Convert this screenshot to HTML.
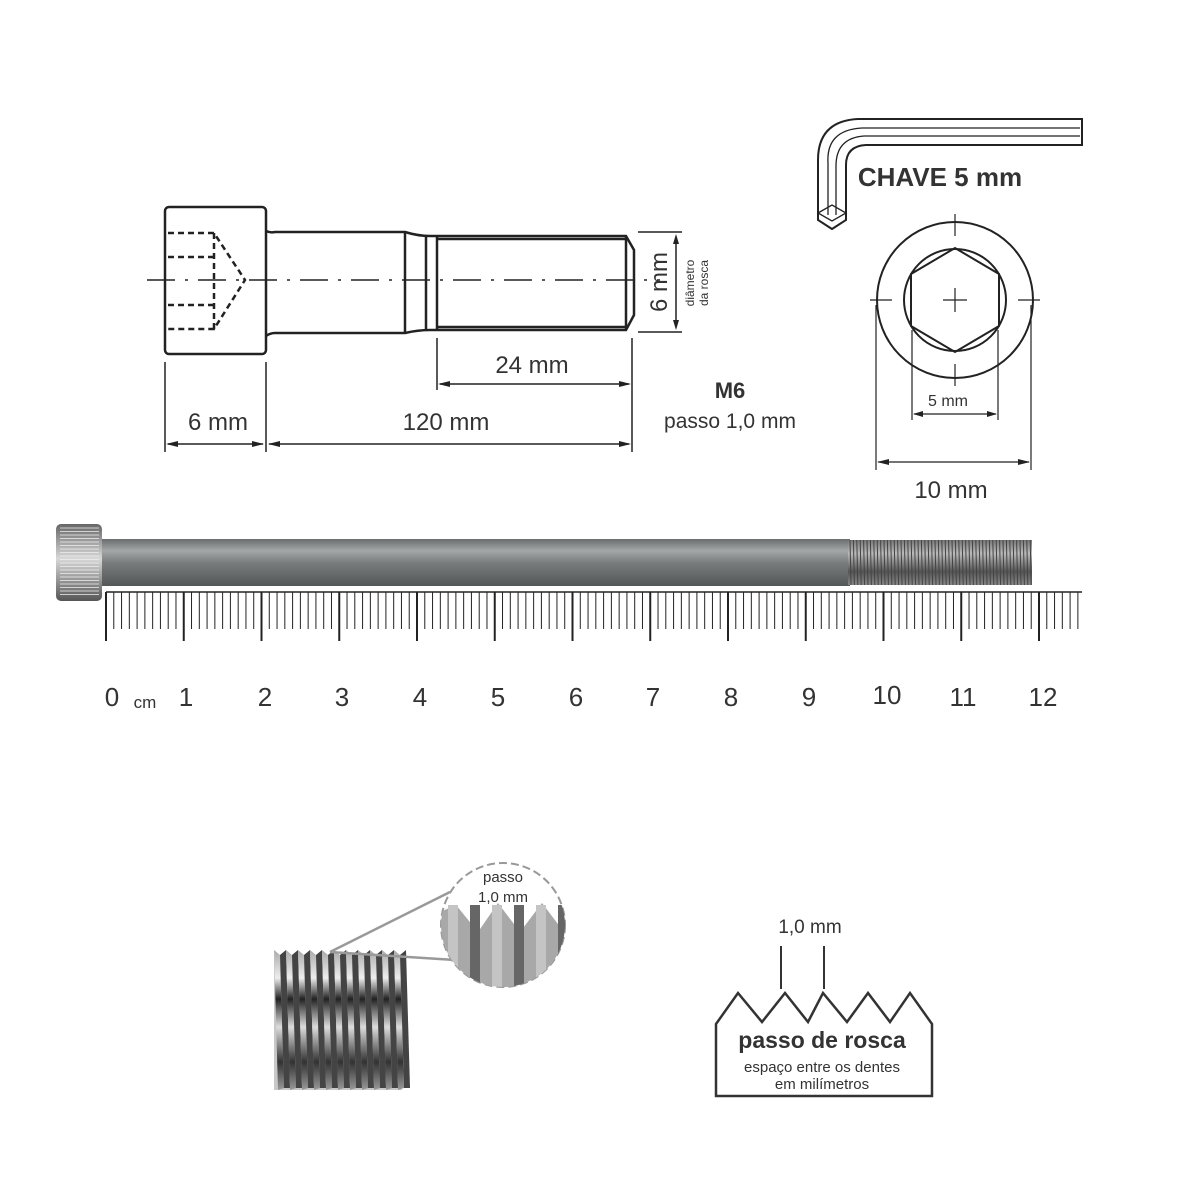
<!DOCTYPE html>
<html><head><meta charset="utf-8"><style>
html,body{margin:0;padding:0;background:#fff}
svg{display:block}
text{font-family:"Liberation Sans",sans-serif;fill:#333}
</style></head><body>
<svg id="s" width="1200" height="1200" viewBox="0 0 1200 1200" xmlns="http://www.w3.org/2000/svg">
<defs>
<linearGradient id="rod" x1="0" y1="0" x2="0" y2="1">
<stop offset="0" stop-color="#6a6d6d"/><stop offset="0.25" stop-color="#a4a7a7"/><stop offset="0.5" stop-color="#7a7d7d"/><stop offset="1" stop-color="#535757"/></linearGradient>
<linearGradient id="head" x1="0" y1="0" x2="0" y2="1">
<stop offset="0" stop-color="#666"/><stop offset="0.45" stop-color="#d8d8d8"/><stop offset="1" stop-color="#555"/></linearGradient>
<linearGradient id="thr" x1="0" y1="0" x2="0" y2="1">
<stop offset="0" stop-color="#777"/><stop offset="0.3" stop-color="#bbb"/><stop offset="0.7" stop-color="#555"/><stop offset="1" stop-color="#888"/></linearGradient>
<linearGradient id="tpg" x1="0" y1="0" x2="0" y2="1">
<stop offset="0" stop-color="#aaa"/><stop offset="0.2" stop-color="#eee"/><stop offset="0.35" stop-color="#222"/><stop offset="0.55" stop-color="#ddd"/><stop offset="0.8" stop-color="#333"/><stop offset="1" stop-color="#999"/></linearGradient>
<clipPath id="cc"><circle cx="503" cy="925" r="62"/></clipPath>
</defs>
<g fill="none" stroke="#222" stroke-width="2.5">
<rect x="165" y="207" width="101" height="147" rx="4"/>
<path d="M266 231 Q270 233 275 232 L382 232 L405 232 Q418 236 430 236 L626 236 L634 250 L634 315 L626 330 L430 330 Q418 330 405 333 L275 333 Q270 333 266 336"/>
<path d="M405 232 L405 333 M426 236 L426 330 M437 236 L437 330 M437 239 L626 239 M437 327 L626 327 M626 236 L626 330"/>
<path stroke-dasharray="6,4" d="M168 233 L214 233 L245 280 L214 329 L168 329 M168 257 L214 257 M168 305 L214 305 M214 233 L214 329"/>
<path stroke-width="1.5" d="M147 280 L660 280" stroke-dasharray="28,10,3,10"/>
<path stroke-width="1.5" d="M165 362 L165 452 M266 362 L266 452 M632 338 L632 452 M437 338 L437 390 M638 232 L682 232 M638 332 L682 332 M676 238 L676 326"/>
<path stroke-width="1.5" d="M168 444 L263 444 M269 444 L629 444 M440 384 L629 384"/>
</g>
<g fill="#222">
<path d="M166 444 l12 -3 l0 6z M264 444 l-12 -3 l0 6z M268 444 l12 -3 l0 6z M631 444 l-12 -3 l0 6z M438 384 l12 -3 l0 6z M631 384 l-12 -3 l0 6z M676 234 l-3 10 l6 0z M676 330 l-3 -10 l6 0z"/>
</g>
<text x="218" y="430" font-size="24" text-anchor="middle">6 mm</text>
<text x="446" y="430" font-size="24" text-anchor="middle">120 mm</text>
<text x="532" y="373" font-size="24" text-anchor="middle">24 mm</text>
<text x="730" y="398" font-size="22" font-weight="bold" text-anchor="middle">M6</text>
<text x="730" y="428" font-size="21" text-anchor="middle">passo 1,0 mm</text>
<text transform="translate(667,282) rotate(-90)" font-size="24" text-anchor="middle">6 mm</text>
<text transform="translate(694,283) rotate(-90)" font-size="12" text-anchor="middle">diâmetro</text>
<text transform="translate(708,283) rotate(-90)" font-size="12" text-anchor="middle">da rosca</text>
<g fill="none" stroke="#222" stroke-width="2">
<path d="M1082 119 L858 119 Q818 121 818 160 L818 220 L832 229 L846 220 L846 165 Q846 146 866 145 L1082 145 Z"/>
<path stroke-width="1.3" d="M1080 128 L862 128 Q826 130 828 163 L828 215 M1080 136 L864 136 Q836 138 836 166 L836 215 M818 213 L832 205 L846 213 L832 221 Z"/>
</g>
<text x="940" y="186" font-size="26" font-weight="bold" text-anchor="middle">CHAVE 5 mm</text>
<g fill="none" stroke="#222" stroke-width="2">
<circle cx="955" cy="300" r="78"/>
<circle cx="955" cy="300" r="51"/>
<path d="M955 248 L999 274 L999 326 L955 352 L911 326 L911 274 Z"/>
<path stroke-width="1.2" d="M955 214 L955 236 M955 288 L955 312 M955 364 L955 386 M870 300 L892 300 M943 300 L967 300 M1018 300 L1040 300" />
<path stroke-width="1.2" d="M912 330 L912 420 M998 330 L998 420 M876 305 L876 470 M1031 305 L1031 470 M914 414 L996 414 M878 462 L1029 462"/>
</g>
<g fill="#222"><path d="M913 414 l10 -3 l0 6z M997 414 l-10 -3 l0 6z M877 462 l12 -3 l0 6z M1030 462 l-12 -3 l0 6z"/></g>
<text x="948" y="406" font-size="16" text-anchor="middle">5 mm</text>
<text x="951" y="498" font-size="24" text-anchor="middle">10 mm</text>
<rect x="102" y="539" width="748" height="47" fill="url(#rod)"/>
<rect x="848" y="540" width="184" height="45" fill="url(#thr)"/>
<g id="thl" stroke="#444" stroke-width="1"></g>
<rect x="56" y="524" width="46" height="77" rx="5" fill="url(#head)"/>
<g id="hdl" stroke="#eee" stroke-width="0.8"></g>
<g id="rul" stroke="#222"></g>
<g font-size="26" text-anchor="middle">
<text x="112" y="706">0</text><text x="145" y="708" font-size="17">cm</text>
<text x="186" y="706">1</text><text x="265" y="706">2</text><text x="342" y="706">3</text><text x="420" y="706">4</text>
<text x="498" y="706">5</text><text x="576" y="706">6</text><text x="653" y="706">7</text><text x="731" y="706">8</text>
<text x="809" y="706">9</text><text x="887" y="704">10</text><text x="963" y="706">11</text><text x="1043" y="706">12</text>
</g>
<g id="tp"></g>
<path d="M330 952 L450 892 M330 952 L455 960" stroke="#999" stroke-width="2.5" fill="none"/>
<circle cx="503" cy="925" r="62" fill="#fff" stroke="#999" stroke-width="2" stroke-dasharray="8,4"/>
<g clip-path="url(#cc)">
<path d="M440 912 L456 905 L478 932 L498 903 L520 932 L542 903 L564 932 L570 1000 L440 1000 Z" fill="#a8a8a8"/>
<g id="cz"></g>
</g>
<text x="503" y="882" font-size="15" text-anchor="middle">passo</text>
<text x="503" y="902" font-size="15" text-anchor="middle">1,0 mm</text>
<path d="M716 1096 L716 1024 L738 993 L762 1022 L785 993 L808 1022 L823 993 L847 1022 L868 993 L890 1022 L910 993 L932 1024 L932 1096 Z" fill="none" stroke="#333" stroke-width="2.5"/>
<path d="M781 946 L781 989 M824 946 L824 989" stroke="#333" stroke-width="2"/>
<text x="810" y="933" font-size="19" text-anchor="middle">1,0 mm</text>
<text x="822" y="1048" font-size="23" font-weight="bold" text-anchor="middle">passo de rosca</text>
<text x="822" y="1072" font-size="15" text-anchor="middle">espaço entre os dentes</text>
<text x="822" y="1089" font-size="15" text-anchor="middle">em milímetros</text>
</svg>
<script>
var NS="http://www.w3.org/2000/svg";
function el(p,t,a){var e=document.createElementNS(NS,t);for(var k in a)e.setAttribute(k,a[k]);document.getElementById(p).appendChild(e);return e;}
el("rul","line",{x1:106,y1:592,x2:1082,y2:592,"stroke-width":1.5});
for(var i=0;i<=125;i++){var x=106+i*7.775;if(x>1082)break;var maj=i%10==0;el("rul","line",{x1:x,y1:592,x2:x,y2:maj?641:629,"stroke-width":maj?2:1});}
for(var x=850;x<1032;x+=3.4){el("thl","line",{x1:x,y1:540,x2:x+1,y2:585});}
for(var y=528;y<598;y+=3.5){el("hdl","line",{x1:60,y1:y,x2:99,y2:y});}
el("tp","rect",{x:274,y:955,width:128,height:135,fill:"#c8c8c8"});
for(var k=0;k<11;k++){var x=274+k*12;
el("tp","path",{d:"M"+x+" 950 L"+(x+6)+" 955 L"+(x+10)+" 1088 L"+(x+4)+" 1090 Z",fill:"url(#tpg)"});
el("tp","path",{d:"M"+(x+6)+" 955 L"+(x+12)+" 950 L"+(x+16)+" 1088 L"+(x+10)+" 1088 Z",fill:"#444"});}
for(var k=0;k<6;k++){var x=448+k*22;
el("cz","rect",{x:x,y:905,width:10,height:90,fill:k%2?"#666":"#c4c4c4"});}
</script>
</body></html>
